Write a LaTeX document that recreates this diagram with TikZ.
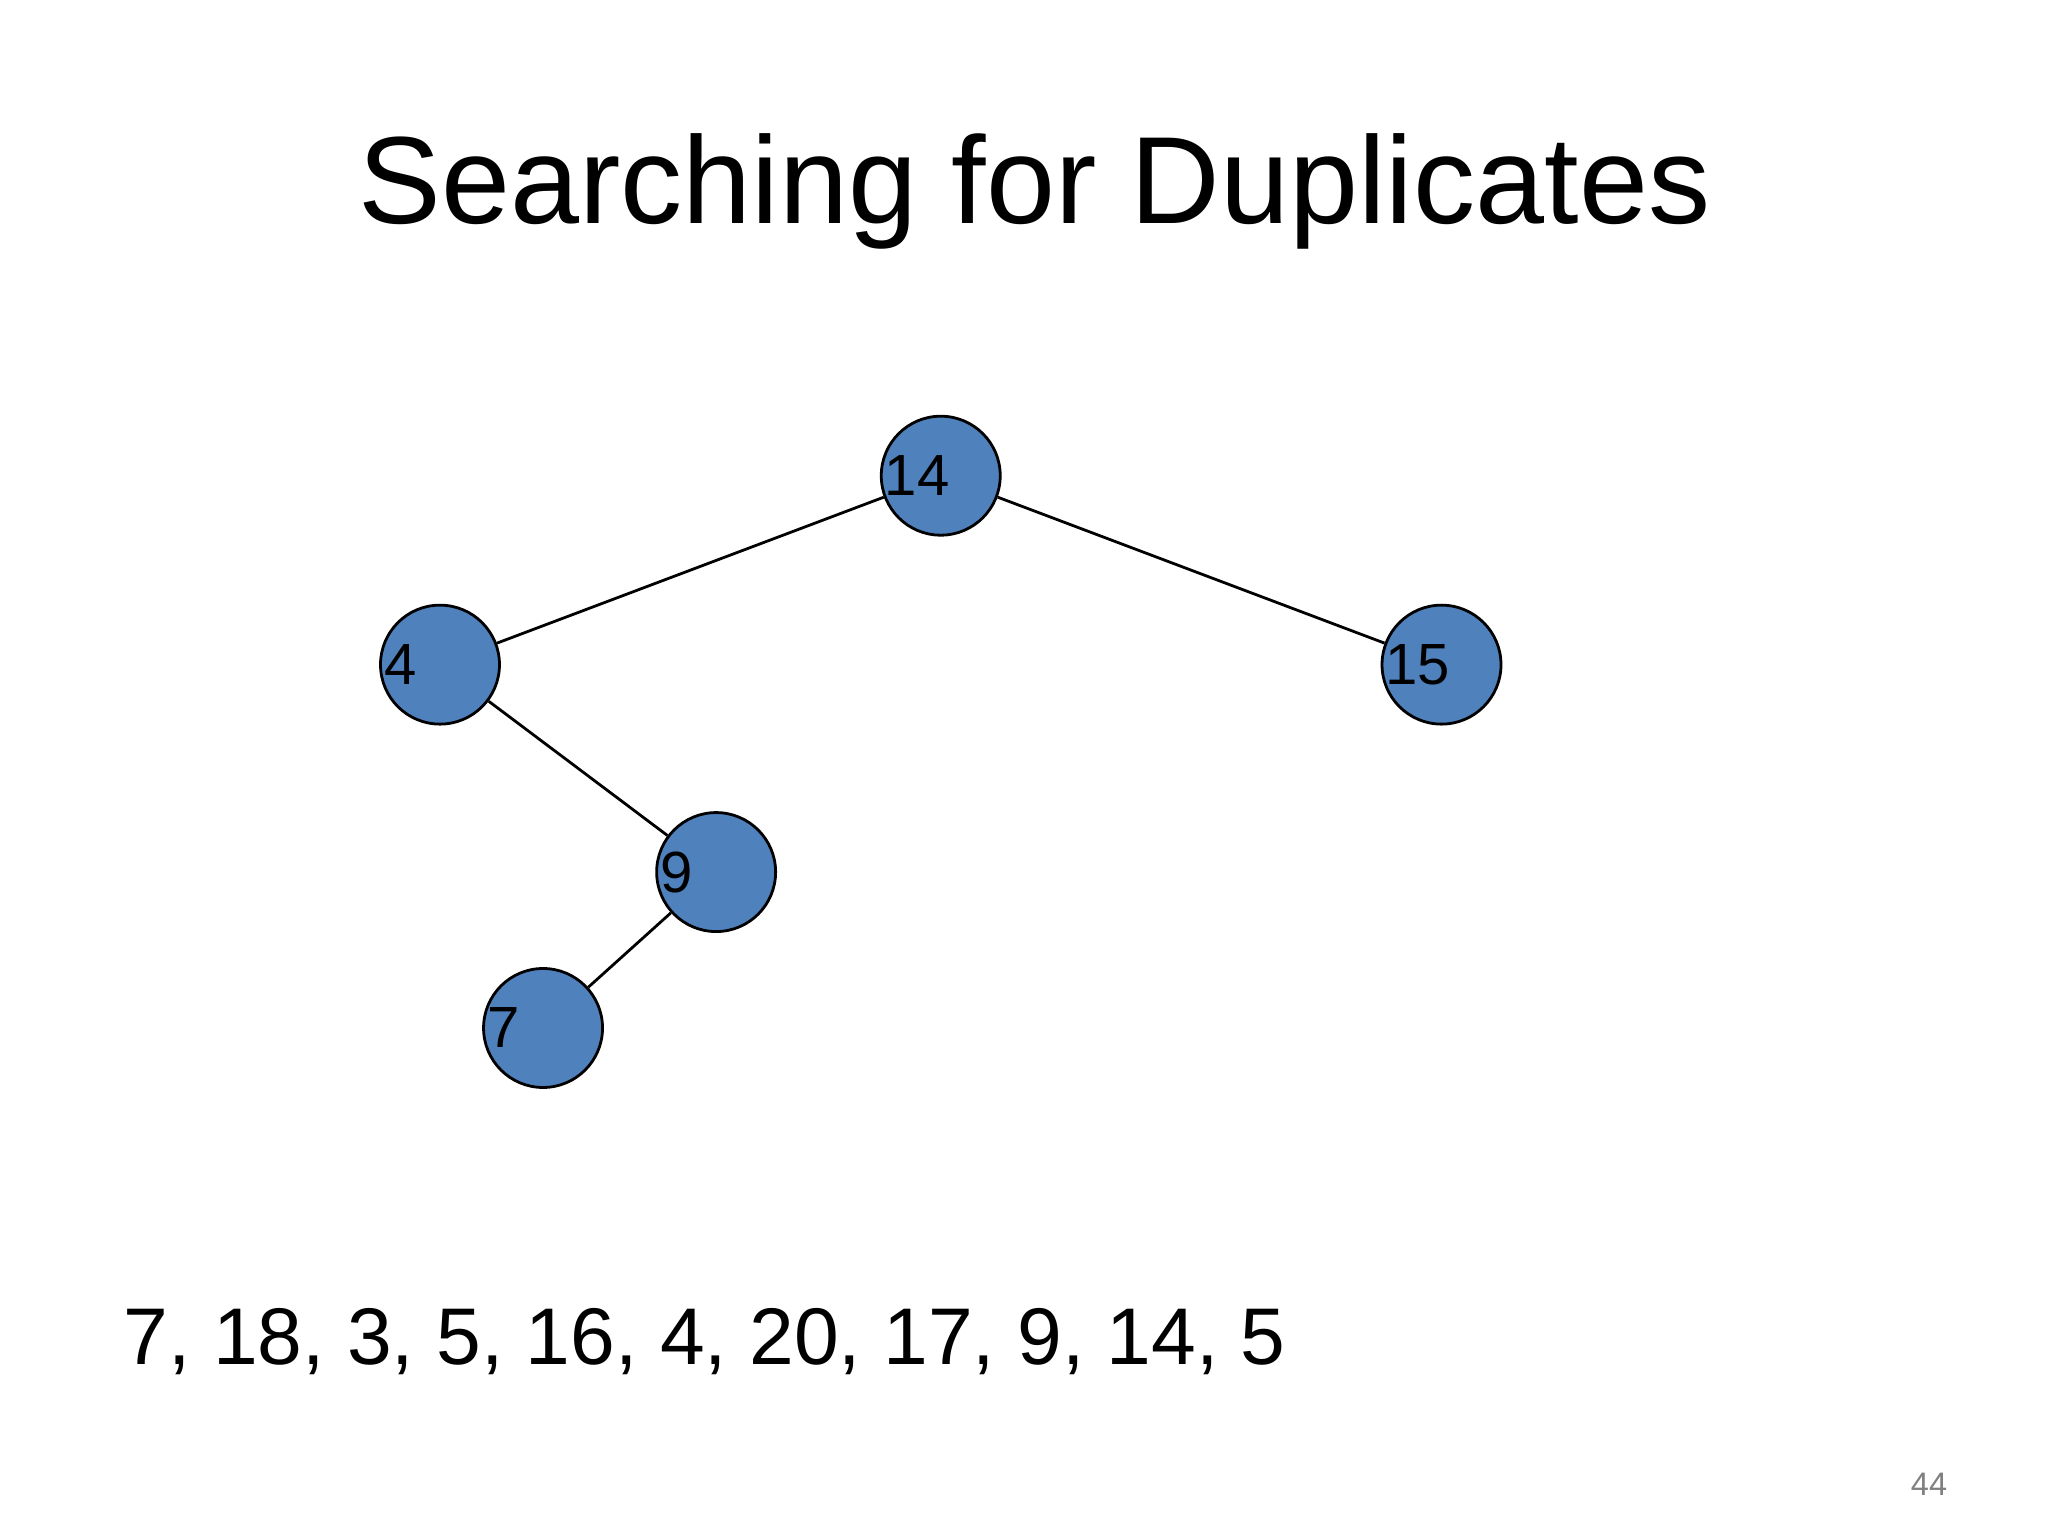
\documentclass[tikz,border=0pt]{standalone}
\usepackage{fontspec}
\setmainfont{Liberation Sans}
\begin{document}
\begin{tikzpicture}[x=0.01cm,y=-0.01cm,
  tnode/.style={circle,draw=black,fill={rgb,255:red,79;green,129;blue,189},minimum size=0.9cm,inner sep=0pt,line width=0.6pt},
  tlabel/.style={anchor=west,inner sep=0pt,font=\fontsize{12.5}{12.5}\selectfont},
  edge/.style={draw=black,line width=0.6pt}]
\useasboundingbox (0,0) rectangle (1550,1162);
\node[font=\fontsize{26.7}{26.7}\selectfont] (title) at (783,145) {Searching for Duplicates};
\node[tnode] (n14) at (712,360) {};
\node[tnode] (n4) at (333,503) {};
\node[tnode] (n15) at (1091,503) {};
\node[tnode] (n9) at (542,660) {};
\node[tnode] (n7) at (411,778) {};
\draw[edge] (n14) -- (n4);
\draw[edge] (n14) -- (n15);
\draw[edge] (n4) -- (n9);
\draw[edge] (n9) -- (n7);
\node[tlabel] (l14) at (669,360) {14};
\node[tlabel] (l4) at (290,503) {4};
\node[tlabel] (l15) at (1048,503) {15};
\node[tlabel] (l9) at (499,660) {9};
\node[tlabel] (l7) at (368,778) {7};
\node[anchor=west,inner sep=0pt,font=\fontsize{17.3}{17.3}\selectfont] (seq) at (93,1015) {7, 18, 3, 5, 16, 4, 20, 17, 9, 14, 5};
\node[font=\fontsize{7}{7}\selectfont,text=gray] (pg) at (1460,1123) {44};
\end{tikzpicture}
\end{document}
